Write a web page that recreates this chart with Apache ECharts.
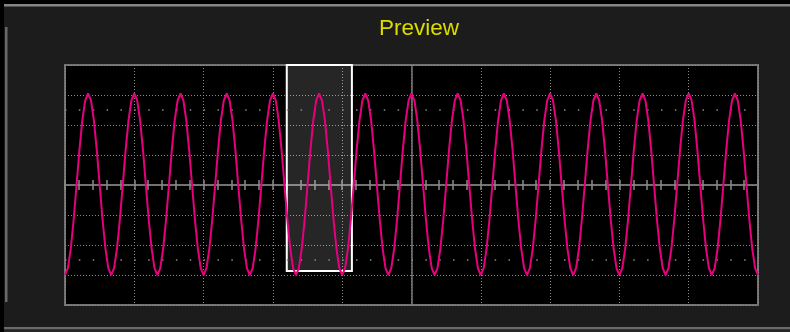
<!DOCTYPE html>
<html>
<head>
<meta charset="utf-8">
<script src="https://cdn.jsdelivr.net/npm/echarts@6/dist/echarts.min.js"></script>
<style>
html,body{margin:0;padding:0;background:#1c1c1c;}
#chart{width:790px;height:332px;}
</style>
</head>
<body>
<div id="chart"></div>
<script>
// Horizontal axis in divisions (10 divisions), vertical in divisions (8 divisions)
const xRange = [-5, 5];
const yRange = [-4, 4];
const timeStartDiv = -5;
const sampleIntervalDiv = 10 / 240;

// Trace samples (divisions), 16 samples per cycle, 15 cycles
const traceDiv = [
  -3.00,-2.77,-2.12,-1.15,0.00,1.17,2.16,2.82,3.05,2.82,2.16,1.17,0.00,-1.15,-2.12,-2.77,
  -3.00,-2.77,-2.12,-1.15,0.00,1.17,2.16,2.82,3.05,2.82,2.16,1.17,0.00,-1.15,-2.12,-2.77,
  -3.00,-2.77,-2.12,-1.15,0.00,1.17,2.16,2.82,3.05,2.82,2.16,1.17,0.00,-1.15,-2.12,-2.77,
  -3.00,-2.77,-2.12,-1.15,0.00,1.17,2.16,2.82,3.05,2.82,2.16,1.17,0.00,-1.15,-2.12,-2.77,
  -3.00,-2.77,-2.12,-1.15,0.00,1.17,2.16,2.82,3.05,2.82,2.16,1.17,0.00,-1.15,-2.12,-2.77,
  -3.00,-2.77,-2.12,-1.15,0.00,1.17,2.16,2.82,3.05,2.82,2.16,1.17,0.00,-1.15,-2.12,-2.77,
  -3.00,-2.77,-2.12,-1.15,0.00,1.17,2.16,2.82,3.05,2.82,2.16,1.17,0.00,-1.15,-2.12,-2.77,
  -3.00,-2.77,-2.12,-1.15,0.00,1.17,2.16,2.82,3.05,2.82,2.16,1.17,0.00,-1.15,-2.12,-2.77,
  -3.00,-2.77,-2.12,-1.15,0.00,1.17,2.16,2.82,3.05,2.82,2.16,1.17,0.00,-1.15,-2.12,-2.77,
  -3.00,-2.77,-2.12,-1.15,0.00,1.17,2.16,2.82,3.05,2.82,2.16,1.17,0.00,-1.15,-2.12,-2.77,
  -3.00,-2.77,-2.12,-1.15,0.00,1.17,2.16,2.82,3.05,2.82,2.16,1.17,0.00,-1.15,-2.12,-2.77,
  -3.00,-2.77,-2.12,-1.15,0.00,1.17,2.16,2.82,3.05,2.82,2.16,1.17,0.00,-1.15,-2.12,-2.77,
  -3.00,-2.77,-2.12,-1.15,0.00,1.17,2.16,2.82,3.05,2.82,2.16,1.17,0.00,-1.15,-2.12,-2.77,
  -3.00,-2.77,-2.12,-1.15,0.00,1.17,2.16,2.82,3.05,2.82,2.16,1.17,0.00,-1.15,-2.12,-2.77,
  -3.00,-2.77,-2.12,-1.15,0.00,1.17,2.16,2.82,3.05,2.82,2.16,1.17,0.00,-1.15,-2.12,-2.77,
  -3.00
];

// Graticule dotted rows (divisions)
const graticuleDotRows = [-2.5, 2.5];

// Highlighted preview window (divisions)
const highlightX = [-1.80, -0.86];
const highlightY = [-2.87, 4];

const traceData = traceDiv.map((v, i) => [timeStartDiv + i * sampleIntervalDiv, v]);

const gridColor = '#8a8a8a';
const dotStyle = { color: gridColor, width: 1, type: [1, 2] };

const dotRowSeries = graticuleDotRows.map(v => ({
  type: 'line', silent: true, symbol: 'none', z: 1,
  data: [[xRange[0], v], [xRange[1], v]],
  lineStyle: { color: gridColor, width: 1.5, type: [1.5, 12.36] },
  animation: false
}));

const centerAxisLine = { color: '#7a7a7a', width: 1.5 };
const centerTick = { color: '#8a8a8a', width: 1.5 };

const chart = echarts.init(document.getElementById('chart'), null, { renderer: 'canvas' });
chart.setOption({
  backgroundColor: '#1c1c1c',
  animation: false,
  title: {
    text: 'Preview', left: 374, top: 12,
    textStyle: { color: '#dcdc00', fontFamily: 'Liberation Sans', fontSize: 22.5, fontWeight: 'normal' }
  },
  graphic: [
    { type: 'rect', shape: { x: 0, y: 0, width: 790, height: 4 }, style: { fill: '#000' }, silent: true },
    { type: 'rect', shape: { x: 0, y: 0, width: 4, height: 332 }, style: { fill: '#000' }, silent: true },
    { type: 'rect', shape: { x: 4, y: 4, width: 786, height: 2.5 }, style: { fill: '#868686' }, silent: true },
    { type: 'rect', shape: { x: 5, y: 27, width: 2.5, height: 275 }, style: { fill: '#686868' }, silent: true },
    { type: 'rect', shape: { x: 4, y: 327, width: 786, height: 2.5 }, style: { fill: '#6a6a6a' }, silent: true },
    { type: 'rect', shape: { x: 4, y: 329.5, width: 786, height: 3 }, style: { fill: '#262626' }, silent: true }
  ],
  grid: {
    left: 65, top: 65, width: 693, height: 240,
    show: true, backgroundColor: '#000', borderColor: '#737373', borderWidth: 2
  },
  xAxis: [
    {
      type: 'value', min: xRange[0], max: xRange[1], interval: 1, position: 'bottom',
      axisLine: { onZero: true, onZeroAxisIndex: 0, lineStyle: centerAxisLine },
      axisTick: { show: true, inside: true, length: 5, lineStyle: centerTick },
      minorTick: { show: true, splitNumber: 5, length: 5, lineStyle: centerTick },
      axisLabel: { show: false },
      splitLine: { show: true, lineStyle: dotStyle }
    },
    {
      type: 'value', min: xRange[0], max: xRange[1], interval: 1, position: 'top',
      axisLine: { onZero: true, onZeroAxisIndex: 1, lineStyle: centerAxisLine },
      axisTick: { show: true, inside: true, length: 5, lineStyle: centerTick },
      minorTick: { show: true, splitNumber: 5, length: 5, lineStyle: centerTick },
      axisLabel: { show: false },
      splitLine: { show: false }
    }
  ],
  yAxis: [
    {
      type: 'value', min: yRange[0], max: yRange[1], interval: 1, position: 'left',
      axisLine: { onZero: true, onZeroAxisIndex: 0, lineStyle: centerAxisLine },
      axisTick: { show: false },
      axisLabel: { show: false },
      splitLine: { show: true, lineStyle: dotStyle }
    },
    {
      type: 'value', min: yRange[0], max: yRange[1], interval: 1, position: 'right',
      axisLine: { show: false, onZero: false },
      axisTick: { show: false },
      axisLabel: { show: false },
      splitLine: { show: false }
    }
  ],
  series: [
    ...dotRowSeries,
    {
      type: 'line', data: traceData, symbol: 'none', z: 3,
      lineStyle: { color: '#e6007e', width: 2 },
      animation: false
    },
    {
      type: 'line', data: [], z: 6, silent: true,
      markArea: {
        silent: true,
        itemStyle: { color: 'rgba(255,255,255,0.15)', borderColor: '#ffffff', borderWidth: 2 },
        data: [[{ xAxis: highlightX[0], yAxis: highlightY[1] }, { xAxis: highlightX[1], yAxis: highlightY[0] }]]
      }
    }
  ]
});
</script>
</body>
</html>
